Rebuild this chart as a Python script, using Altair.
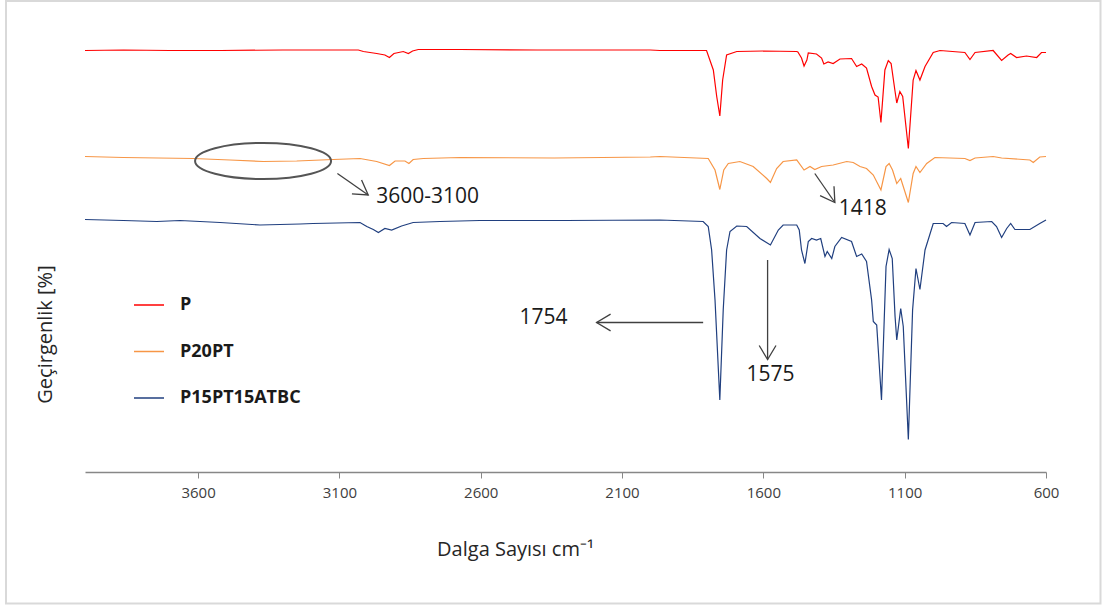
import altair as alt
import pandas as pd

# ---- FTIR spectra: wavenumber (cm-1) and offset transmittance (a.u.) ----
SAMPLES = ["P", "P20PT", "P15PT15ATBC"]
COLORS = ["#ff0000", "#f79646", "#203f7f"]

P_WN = [4000, 3864, 3700, 3520, 3300, 3130, 3033, 3015, 2968, 2939, 2923, 2907, 2874,
        2856, 2841, 2821, 2673, 2400, 2000, 1966, 1801, 1777, 1765, 1754, 1744, 1730,
        1694, 1600, 1482, 1478, 1465, 1456, 1446, 1441, 1412, 1394, 1386, 1371, 1353,
        1329, 1288, 1270, 1252, 1235, 1217, 1205, 1194, 1184, 1170, 1158, 1148, 1134,
        1128, 1117, 1107, 1087, 1070, 1060, 1046, 1028, 999, 975, 887, 869, 851, 787,
        757, 734, 725, 704, 669, 633, 616, 600]
P_T = [84.3, 84.4, 84.3, 84.3, 84.4, 84.4, 84.4, 84.1, 83.7, 83.4, 82.9, 83.7, 84.1,
       83.7, 84.2, 84.5, 84.5, 84.4, 84.4, 84.3, 84.3, 80.4, 75.1, 71.2, 78.4, 83.4,
       84.1, 84.2, 84.1, 84.0, 82.8, 81.2, 82.4, 83.8, 83.6, 82.8, 81.6, 82.0, 81.7,
       82.6, 82.7, 81.1, 81.6, 80.8, 77.1, 75.4, 75.0, 69.9, 80.4, 82.3, 81.7, 76.1,
       73.8, 76.1, 75.1, 64.7, 78.4, 80.3, 78.4, 81.1, 83.9, 84.3, 83.9, 82.5, 83.9,
       84.3, 82.3, 83.4, 83.7, 82.9, 83.2, 82.9, 83.9, 83.9]

P20_WN = [4000, 3864, 3617, 3487, 3369, 3251, 3122, 3027, 2968, 2923, 2903, 2868, 2854,
          2839, 2803, 2673, 2340, 2000, 1966, 1795, 1771, 1754, 1740, 1724, 1683, 1636,
          1588, 1575, 1553, 1530, 1482, 1456, 1435, 1418, 1394, 1353, 1305, 1282, 1258,
          1235, 1211, 1184, 1166, 1155, 1143, 1128, 1114, 1087, 1070, 1060, 1046, 1022,
          993, 887, 869, 851, 787, 757, 657, 645, 622, 600]
P20_T = [63.1, 62.9, 62.7, 62.4, 62.1, 62.2, 62.5, 62.7, 62.1, 61.3, 62.2, 62.2, 61.7,
         62.5, 62.7, 62.9, 62.8, 63.0, 63.1, 62.7, 60.4, 56.5, 60.4, 61.7, 62.1, 61.1,
         58.7, 57.9, 60.7, 62.1, 62.4, 60.4, 61.1, 60.5, 61.1, 61.4, 62.1, 61.9, 61.1,
         60.7, 59.4, 56.4, 61.1, 61.7, 60.4, 57.7, 58.7, 53.9, 59.7, 61.1, 59.9, 61.7,
         62.9, 62.7, 62.3, 62.8, 63.1, 62.8, 62.4, 61.9, 63.0, 63.1]

P15_WN = [4000, 3864, 3746, 3664, 3522, 3381, 3239, 3193, 3027, 3003, 2980, 2962, 2939,
          2915, 2880, 2839, 2744, 2603, 2300, 1966, 1813, 1795, 1783, 1771, 1754, 1742,
          1730, 1718, 1694, 1659, 1612, 1575, 1547, 1530, 1482, 1473, 1465, 1453, 1441,
          1429, 1412, 1397, 1382, 1374, 1358, 1347, 1323, 1288, 1270, 1252, 1235, 1217,
          1211, 1199, 1182, 1166, 1155, 1144, 1134, 1128, 1114, 1105, 1087, 1072, 1060,
          1046, 1028, 999, 964, 952, 934, 887, 869, 851, 792, 775, 757, 739, 725, 710,
          657, 622, 600]
P15_T = [50.5, 50.3, 50.1, 50.3, 49.9, 49.4, 49.6, 49.7, 49.9, 49.1, 48.5, 47.9, 48.7,
         48.4, 49.2, 49.9, 50.1, 50.3, 50.3, 50.4, 50.1, 49.1, 44.4, 34.4, 14.4, 32.4,
         44.4, 48.1, 49.2, 49.1, 46.7, 45.4, 48.4, 49.4, 49.4, 48.4, 44.4, 41.7, 46.1,
         46.7, 46.4, 46.7, 43.1, 44.1, 42.7, 45.1, 46.9, 46.1, 43.1, 43.6, 42.1, 34.4,
         30.1, 29.4, 14.4, 41.1, 44.5, 42.7, 31.1, 26.4, 32.7, 29.1, 6.5, 32.4, 40.7,
         36.5, 44.4, 49.7, 49.7, 49.1, 49.9, 49.7, 47.4, 49.9, 50.1, 49.1, 46.9, 48.7,
         49.7, 48.5, 48.5, 49.7, 50.4]

X_TICKS = [3600, 3100, 2600, 2100, 1600, 1100, 600]

# ---- annotations (in data units) ----
ARROW_FROM_WN = [3107, 1418, 1813, 1585]
ARROW_FROM_T = [59.7, 59.7, 29.9, 42.4]
ARROW_TO_WN = [2998, 1347, 2190, 1585]
ARROW_TO_T = [55.4, 53.9, 29.9, 22.5]
ARROW_ANGLE = [35, 56, 180, 90]

LABEL_TEXT = ["3600-3100", "1418", "1754", "1575"]
LABEL_WN = [2788, 1248, 2378, 1575]
LABEL_T = [55.0, 52.7, 30.8, 19.4]

ELLIPSE_WN = [3370]
ELLIPSE_T = [62.2]

FONT = "Open Sans"

rows = []
for name, wn, t in [("P", P_WN, P_T), ("P20PT", P20_WN, P20_T), ("P15PT15ATBC", P15_WN, P15_T)]:
    rows += [{"wn": a, "t": b, "sample": name} for a, b in zip(wn, t)]
spectra = pd.DataFrame(rows)

arrows = pd.DataFrame({"wn": ARROW_FROM_WN, "t": ARROW_FROM_T,
                       "wn2": ARROW_TO_WN, "t2": ARROW_TO_T, "ang": ARROW_ANGLE})
labels = pd.DataFrame({"wn": LABEL_WN, "t": LABEL_T, "text": LABEL_TEXT})
ellipse = pd.DataFrame({"wn": ELLIPSE_WN, "t": ELLIPSE_T})

x_scale = alt.Scale(domain=[600, 4000], reverse=True, nice=False, zero=False)
y_scale = alt.Scale(domain=[0, 90], nice=False, zero=False)

X = alt.X("wn:Q", scale=x_scale, axis=alt.Axis(
    values=X_TICKS, title="Dalga Sayısı cm⁻¹", grid=False,
    domainColor="#878787", domainWidth=1.5, tickColor="#878787", tickWidth=1,
    tickSize=6, labelFont=FONT, labelFontSize=15, labelColor="#404040",
    labelPadding=7, labelFlush=False, labelOverlap=False, format="d",
    titleFont=FONT, titleFontSize=20, titleFontWeight="normal", titleColor="#262626",
    titleX=430, titleY=77, titleBaseline="middle"))
Y = alt.Y("t:Q", scale=y_scale, axis=alt.Axis(
    title="Geçirgenlik [%]", labels=False, ticks=False, domain=False, grid=False,
    titleFont=FONT, titleFontSize=20, titleFontWeight="normal", titleColor="#262626",
    titleX=-40, titleY=312, titleAngle=-90, titleAlign="center", titleBaseline="middle"))

frame = alt.Chart(pd.DataFrame({"k": [0]})).mark_rect(
    fillOpacity=0, stroke="#d9d9d9", strokeWidth=2
).encode(x=alt.value(-79), x2=alt.value(1015.5), y=alt.value(-21), y2=alt.value(581.5))

lines = alt.Chart(spectra).mark_line(strokeWidth=1.2).encode(
    x=X, y=Y,
    color=alt.Color("sample:N", scale=alt.Scale(domain=SAMPLES, range=COLORS),
                    legend=alt.Legend(orient="none", legendX=48, legendY=267, title=None,
                                      symbolType="stroke", symbolSize=900,
                                      symbolStrokeWidth=1.5, labelFont=FONT,
                                      labelFontSize=18, labelFontWeight="bold",
                                      labelColor="#1a1a1a", labelOffset=15,
                                      rowPadding=21.5, padding=0, labelLimit=0)),
)

ring = alt.Chart(ellipse).mark_point(
    shape="M -1 0 A 1 0.265 0 1 1 1 0 A 1 0.265 0 1 1 -1 0 Z",
    size=18496, filled=False, stroke="#555555", strokeWidth=2, opacity=1
).encode(x=X, y=Y)

shafts = alt.Chart(arrows).mark_rule(color="#404040", strokeWidth=1.3).encode(
    x=X, y=Y, x2="wn2:Q", y2="t2:Q")

heads = alt.Chart(arrows).mark_point(
    shape="M -1 -0.6 L 0 0 L -1 0.6", size=784, filled=False,
    stroke="#404040", strokeWidth=1.3, opacity=1
).encode(x=alt.X("wn2:Q", scale=x_scale, axis=alt.Axis(title="Dalga Sayısı cm⁻¹")),
         y=alt.Y("t2:Q", scale=y_scale, axis=alt.Axis(title="Geçirgenlik [%]")),
         angle=alt.Angle("ang:Q", scale=None))

texts = alt.Chart(labels).mark_text(
    font=FONT, fontSize=21, color="#1a1a1a", align="center", baseline="middle"
).encode(x=X, y=Y, text="text:N")

chart = alt.layer(frame, lines, ring, shafts, heads, texts).properties(
    width=961, height=450,
    autosize=alt.AutoSizeParams(type="none"),
    padding={"left": 85, "top": 22, "right": 56, "bottom": 135},
    background="white",
).configure_view(stroke=None)

chart.save("out.html", embed_options={"renderer": "svg", "actions": False})
